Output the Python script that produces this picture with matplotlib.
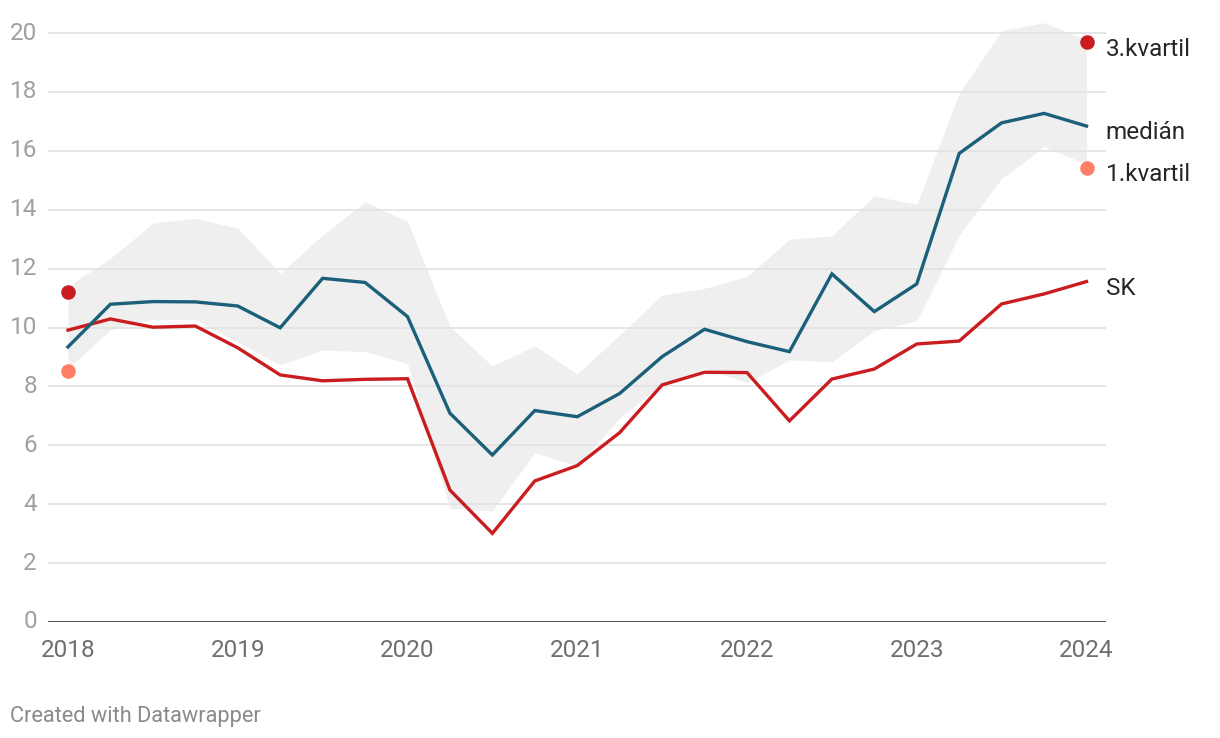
import matplotlib
matplotlib.use("Agg")
import matplotlib.pyplot as plt
import numpy as np

plt.rcParams['font.family'] = ['Roboto', 'DejaVu Sans']

# quarterly points 2018Q1 .. 2024Q1
n_quarters = 25
start_year = 2018

median = [9.34, 10.79, 10.88, 10.87, 10.73, 9.99, 11.67, 11.53, 10.37,
          7.09, 5.67, 7.18, 6.97, 7.76, 9.01, 9.94, 9.52, 9.18,
          11.82, 10.54, 11.48, 15.91, 16.95, 17.27, 16.84]
sk = [9.91, 10.29, 10.01, 10.05, 9.31, 8.39, 8.19, 8.24, 8.26,
      4.48, 3.01, 4.79, 5.31, 6.43, 8.05, 8.48, 8.47, 6.83,
      8.25, 8.59, 9.44, 9.54, 10.80, 11.14, 11.56]
q3 = [11.40, 12.35, 13.54, 13.71, 13.37, 11.84, 13.14, 14.27, 13.60,
      10.03, 8.69, 9.38, 8.42, 9.75, 11.10, 11.33, 11.73, 13.00,
      13.11, 14.47, 14.18, 17.95, 20.08, 20.35, 19.78]
q1 = [8.62, 9.92, 10.28, 10.28, 9.50, 8.73, 9.24, 9.18, 8.78,
      3.86, 3.77, 5.75, 5.30, 6.92, 8.08, 8.61, 8.13, 8.90,
      8.84, 9.89, 10.23, 13.14, 15.06, 16.14, 15.55]
q3_dots = [11.22, 19.69]
q1_dots = [8.52, 15.43]

year_ticks = [2018, 2019, 2020, 2021, 2022, 2023, 2024]
y_ticks = [0, 2, 4, 6, 8, 10, 12, 14, 16, 18, 20]

x = start_year + np.arange(n_quarters) / 4.0

W, H = 1220, 738
fig = plt.figure(figsize=(W / 100, H / 100), dpi=100)
ax = fig.add_axes([48 / W, (H - 622) / H, (1106 - 48) / W, (622 - 15.3) / H])

C_BLUE = '#1b5f7a'
C_RED = '#c91d1f'
C_LRED = '#ff7f66'
C_BAND = '#efefef'

ax.fill_between(x, q1, q3, color=C_BAND, lw=0, zorder=1)
for yv in y_ticks[1:]:
    ax.axhline(yv, color='#e2e2e2', lw=1.2, zorder=2)
ax.axhline(0, color='#1a1a1a', lw=1.8, zorder=5)

ax.plot(x, sk, color=C_RED, lw=2.4, zorder=4, solid_joinstyle='miter')
ax.plot(x, median, color=C_BLUE, lw=2.4, zorder=4, solid_joinstyle='miter')

ax.scatter([x[0], x[-1]], q3_dots, s=110, color=C_RED, zorder=6, lw=0)
ax.scatter([x[0], x[-1]], q1_dots, s=110, color=C_LRED, zorder=6, lw=0)

ax.set_xlim(2018 - 20 / 169.83, 2024 + 19.5 / 169.83)
ax.set_ylim(0, (622 - 15.3) / 29.45)

for s in ax.spines.values():
    s.set_visible(False)
ax.set_yticks(y_ticks)
ax.set_yticklabels([str(v) for v in y_ticks])
ax.set_xticks(year_ticks)
ax.set_xticklabels([str(v) for v in year_ticks])
ax.tick_params(axis='y', length=0, pad=8, labelsize=17.5, labelcolor='#a0a0a0')
ax.tick_params(axis='x', length=0, pad=12, labelsize=17.5, labelcolor='#6e6e6e')
for lbl in ax.get_yticklabels():
    lbl.set_verticalalignment('center')

lab_kw = dict(fontsize=17.5, color='#262626', va='center', ha='left',
              transform=ax.transData, clip_on=False)
lx = 2024 + 19 / 169.83
ax.text(lx, 19.45, '3.kvartil', **lab_kw)
ax.text(lx, 16.62, 'medián', **lab_kw)
ax.text(lx, 15.2, '1.kvartil', **lab_kw)
ax.text(lx, 11.33, 'SK', **lab_kw)

fig.text(10 / W, 1 - 716.5 / H, 'Created with Datawrapper', fontsize=15.7,
         color='#8a8a8a', ha='left', va='center')

fig.savefig('out.png', dpi=100, facecolor='white')
